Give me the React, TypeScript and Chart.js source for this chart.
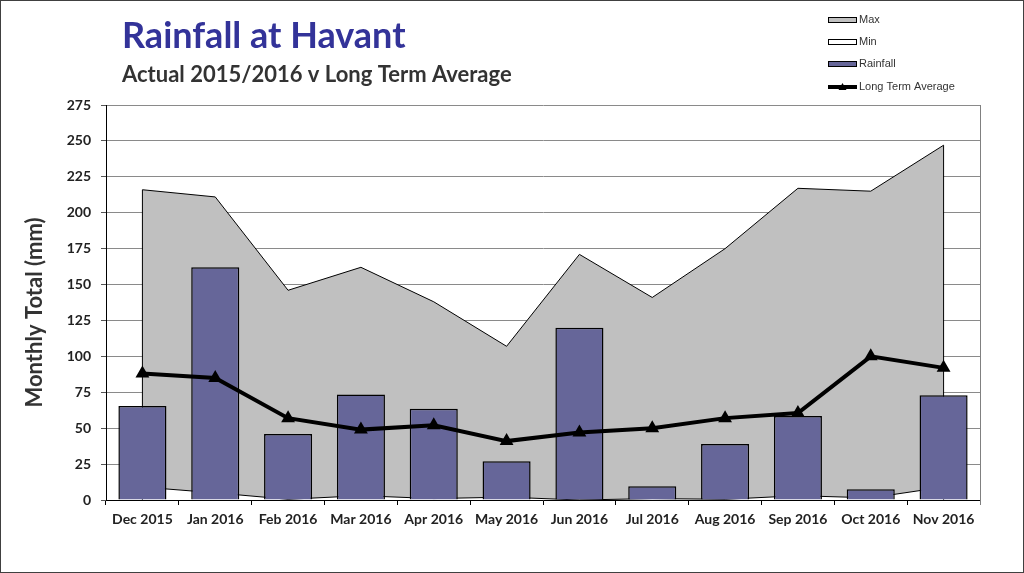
import React, { useEffect, useRef } from "react";
import { Chart, registerables } from "chart.js";

Chart.register(...registerables);

const categories = [
  "Dec 2015", "Jan 2016", "Feb 2016", "Mar 2016", "Apr 2016", "May 2016",
  "Jun 2016", "Jul 2016", "Aug 2016", "Sep 2016", "Oct 2016", "Nov 2016",
];
const maxValues = [216, 211, 146, 162, 138, 107, 171, 141, 175, 217, 215, 247];
const minValues = [9, 5, 0.5, 3, 1, 2, 0, 1, 0.5, 3, 1.5, 9];
const rainfall = [65.5, 162, 46, 73.5, 63.5, 27, 120, 9.5, 39, 58.5, 7.5, 73];
const longTermAverage = [88, 85, 57, 49, 52, 41, 47, 50, 57, 60.5, 100, 92];

const titleText = "Rainfall at Havant";
const subtitleText = "Actual 2015/2016 v Long Term Average";
const yAxisTitle = "Monthly Total (mm)";
const yMin = 0;
const yMax = 275;
const yStep = 25;

const W = 1024;
const H = 573;

const decorPlugin = {
  id: "decor",
  beforeDraw(chart: any) {
    const ctx = chart.ctx;
    ctx.save();
    ctx.fillStyle = "#ffffff";
    ctx.fillRect(0, 0, chart.width, chart.height);
    ctx.restore();
  },
  beforeDatasetsDraw(chart: any) {
    const { ctx, chartArea } = chart;
    ctx.save();
    ctx.strokeStyle = "#808080";
    ctx.lineWidth = 1;
    ctx.beginPath();
    ctx.moveTo(Math.round(chartArea.right) + 0.5, chartArea.top);
    ctx.lineTo(Math.round(chartArea.right) + 0.5, chartArea.bottom + 5);
    ctx.stroke();
    ctx.restore();
  },
  afterDatasetDraw(chart: any, args: any) {
    if (args.index !== 0) return;
    const { ctx } = chart;
    const meta = args.meta;
    const yScale = chart.scales.y;
    const base = yScale.getPixelForValue(0);
    const pts = [meta.data[0], meta.data[meta.data.length - 1]];
    ctx.save();
    ctx.strokeStyle = "#000";
    ctx.lineWidth = 1;
    ctx.beginPath();
    pts.forEach((p: any) => {
      ctx.moveTo(p.x, p.y);
      ctx.lineTo(p.x, base);
    });
    ctx.stroke();
    ctx.restore();
  },
  afterDraw(chart: any) {
    const { ctx, chartArea } = chart;
    ctx.save();
    // titles
    ctx.textAlign = "left";
    ctx.textBaseline = "alphabetic";
    ctx.fillStyle = "#333399";
    ctx.font = "bold 36px Lato";
    ctx.fillText(titleText, 122, 48);
    ctx.fillStyle = "#333333";
    ctx.font = "bold 22px Lato";
    ctx.fillText(subtitleText, 122, 82);

    // y axis title
    ctx.save();
    ctx.translate(35, (chartArea.top + chartArea.bottom) / 2 + 10);
    ctx.rotate(-Math.PI / 2);
    ctx.textAlign = "center";
    ctx.textBaseline = "middle";
    ctx.font = "bold 22px Lato";
    ctx.fillStyle = "#333333";
    ctx.fillText(yAxisTitle, 0, 0);
    ctx.restore();

    // legend
    const ds = chart.data.datasets;
    const legendX = 828;
    const swW = 29;
    const rowY = [20, 42, 64, 87];
    ds.forEach((d: any, i: number) => {
      const y = rowY[i];
      if (d.type === "line" && !d.fill) {
        ctx.strokeStyle = d.borderColor;
        ctx.lineWidth = 4;
        ctx.beginPath();
        ctx.moveTo(legendX, y);
        ctx.lineTo(legendX + swW, y);
        ctx.stroke();
        ctx.fillStyle = d.pointBackgroundColor;
        const cx = legendX + swW / 2;
        ctx.beginPath();
        ctx.moveTo(cx, y - 4);
        ctx.lineTo(cx + 4, y + 3);
        ctx.lineTo(cx - 4, y + 3);
        ctx.closePath();
        ctx.fill();
      } else {
        ctx.fillStyle = d.backgroundColor;
        ctx.fillRect(legendX, y - 2.5, swW, 5);
        ctx.strokeStyle = "#000";
        ctx.lineWidth = 1;
        ctx.strokeRect(legendX + 0.5, y - 2.5, swW - 1, 5);
      }
      ctx.fillStyle = "#333333";
      ctx.font = "11px 'Liberation Sans', Arial";
      ctx.textAlign = "left";
      ctx.textBaseline = "middle";
      ctx.fillText(d.label, legendX + swW + 2, y);
    });

    // outer frame
    ctx.strokeStyle = "#404040";
    ctx.lineWidth = 1;
    ctx.strokeRect(0.5, 0.5, W - 1, H - 1);
    ctx.restore();
  },
};

export default function App() {
  const canvasRef = useRef<HTMLCanvasElement | null>(null);

  useEffect(() => {
    document.body.style.margin = "0";
    const canvas = canvasRef.current;
    if (!canvas) return;
    const chart = new Chart(canvas, {
      type: "bar",
      data: {
        labels: categories,
        datasets: [
          {
            type: "line",
            label: "Max",
            data: maxValues,
            order: 4,
            fill: "origin",
            backgroundColor: "#C0C0C0",
            borderColor: "#000000",
            borderWidth: 1,
            pointRadius: 0,
            tension: 0,
          },
          {
            type: "line",
            label: "Min",
            data: minValues,
            order: 3,
            fill: "origin",
            backgroundColor: "#FFFFFF",
            borderColor: "#000000",
            borderWidth: 1,
            pointRadius: 0,
            tension: 0,
          },
          {
            type: "bar",
            label: "Rainfall",
            data: rainfall,
            order: 2,
            backgroundColor: "#666699",
            borderColor: "#000000",
            borderWidth: 1.5,
            categoryPercentage: 1,
            barPercentage: 0.66,
          },
          {
            type: "line",
            label: "Long Term Average",
            data: longTermAverage,
            order: 1,
            fill: false,
            borderColor: "#000000",
            borderWidth: 4,
            pointStyle: "triangle",
            pointRadius: 4,
            pointBackgroundColor: "#000000",
            pointBorderColor: "#000000",
            tension: 0,
          },
        ] as any,
      },
      options: {
        responsive: false,
        animation: false,
        events: [],
        layout: { padding: { top: 105, left: 0, right: 44, bottom: 28 } },
        plugins: {
          legend: { display: false },
          title: { display: false },
          tooltip: { enabled: false },
        },
        scales: {
          x: {
            offset: true,
            grid: {
              offset: true,
              drawOnChartArea: false,
              drawTicks: true,
              tickLength: 5,
              tickColor: "#000000",
            },
            border: { color: "#000000", width: 1 },
            ticks: {
              color: "#222222",
              font: { family: "Lato", weight: "bold", size: 14 },
              maxRotation: 0,
              autoSkip: false,
              padding: 6,
            },
            afterFit(scale: any) {
              scale.height = 45;
            },
          },
          y: {
            min: yMin,
            max: yMax,
            grid: {
              color: "#8a8a8a",
              lineWidth: 1,
              tickLength: 5,
              tickColor: "#555555",
            },
            border: { color: "#000000", width: 1 },
            ticks: {
              stepSize: yStep,
              color: "#222222",
              font: { family: "Lato", weight: "bold", size: 14 },
              padding: 10,
            },
            afterFit(scale: any) {
              scale.width = 106;
            },
          },
        },
      },
      plugins: [decorPlugin],
    } as any);
    return () => chart.destroy();
  }, []);

  return (
    <div style={{ position: "absolute", left: 0, top: 0, width: W, height: H }}>
      <canvas ref={canvasRef} width={W} height={H} style={{ display: "block" }} />
    </div>
  );
}
